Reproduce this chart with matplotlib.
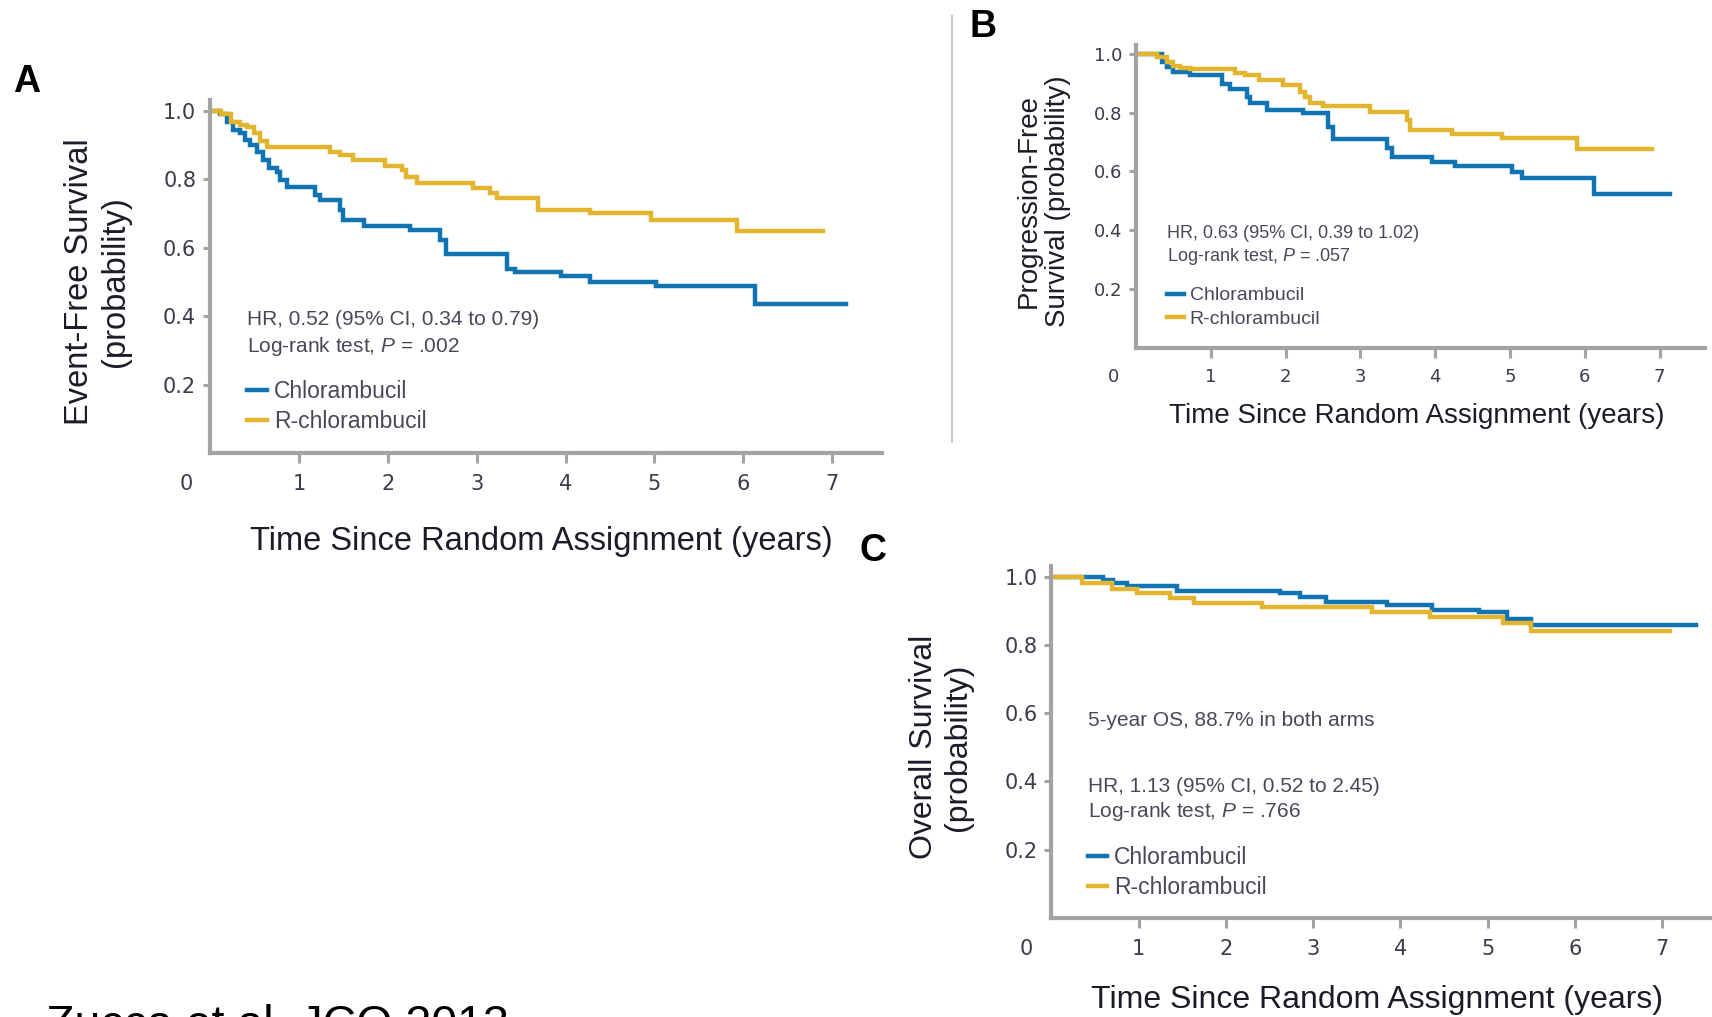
import matplotlib
matplotlib.use('Agg')
import matplotlib.pyplot as plt
from matplotlib.lines import Line2D

plt.rcParams['font.family'] = ['Liberation Sans', 'DejaVu Sans']
plt.rcParams['mathtext.fontset'] = 'custom'
plt.rcParams['mathtext.rm'] = 'Liberation Sans'
plt.rcParams['mathtext.it'] = 'Liberation Sans:italic'

BLUE = '#0f74b1'
YELLOW = '#e2b430'
SPINE = '#a3a3a3'
TICKTXT = '#3c3a4c'
NOTE = '#4d4658'
LABEL = '#1c1c28'

# --- data (years, survival probability), Kaplan-Meier steps ---
efs_chl_t = [0, 0.11, 0.19, 0.26, 0.34, 0.39, 0.45, 0.53, 0.60, 0.66, 0.75, 0.79, 0.86, 1.18,
             1.24, 1.46, 1.50, 1.73, 2.25, 2.59, 2.66, 3.34, 3.43, 3.95, 4.28, 5.02, 6.13, 7.15]
efs_chl_s = [1.0, 0.99, 0.968, 0.944, 0.934, 0.914, 0.90, 0.88, 0.856, 0.832, 0.822, 0.798, 0.778, 0.754,
             0.739, 0.71, 0.681, 0.664, 0.652, 0.623, 0.582, 0.537, 0.53, 0.518, 0.50, 0.487, 0.436, 0.436]
efs_rchl_t = [0, 0.12, 0.24, 0.34, 0.41, 0.49, 0.56, 0.64, 1.35, 1.46, 1.61, 1.97, 2.16, 2.21,
              2.33, 2.96, 3.15, 3.23, 3.69, 4.28, 4.96, 5.93, 6.90]
efs_rchl_s = [1.0, 0.99, 0.968, 0.958, 0.953, 0.934, 0.91, 0.895, 0.88, 0.871, 0.856, 0.837, 0.827, 0.807,
              0.788, 0.773, 0.759, 0.744, 0.711, 0.70, 0.68, 0.648, 0.648]

pfs_chl_t = [0, 0.34, 0.41, 0.50, 0.72, 1.15, 1.26, 1.48, 1.52, 1.75, 2.23, 2.57, 2.63, 3.35,
             3.42, 3.96, 4.27, 5.03, 5.16, 6.12, 7.14]
pfs_chl_s = [1.0, 0.973, 0.957, 0.938, 0.928, 0.899, 0.879, 0.854, 0.832, 0.809, 0.798, 0.75, 0.709, 0.68,
             0.65, 0.633, 0.618, 0.599, 0.577, 0.523, 0.523]
pfs_rchl_t = [0, 0.28, 0.41, 0.50, 0.59, 0.72, 1.32, 1.46, 1.64, 1.97, 2.19, 2.26, 2.33, 2.50,
              3.13, 3.62, 3.66, 4.23, 4.89, 5.89, 6.90]
pfs_rchl_s = [1.0, 0.988, 0.974, 0.959, 0.951, 0.948, 0.934, 0.928, 0.911, 0.894, 0.872, 0.854, 0.834, 0.823,
              0.801, 0.775, 0.741, 0.726, 0.713, 0.675, 0.675]

os_chl_t = [0, 0.59, 0.71, 0.87, 1.44, 2.62, 2.85, 3.15, 3.85, 4.36, 4.90, 5.22, 5.50, 7.39]
os_chl_s = [1.0, 0.989, 0.98, 0.972, 0.958, 0.951, 0.939, 0.926, 0.918, 0.902, 0.895, 0.875, 0.858, 0.858]
os_rchl_t = [0, 0.35, 0.69, 0.98, 1.36, 1.64, 2.41, 3.67, 4.34, 5.17, 5.50, 7.09]
os_rchl_s = [1.0, 0.98, 0.965, 0.951, 0.938, 0.924, 0.911, 0.895, 0.882, 0.863, 0.841, 0.841]

arm_names = ['Chlorambucil', 'R-chlorambucil']
x_ticks = [1, 2, 3, 4, 5, 6, 7]
y_ticks = [0.2, 0.4, 0.6, 0.8, 1.0]
x_title = 'Time Since Random Assignment (years)'

efs_notes = ['HR, 0.52 (95% CI, 0.34 to 0.79)', r'Log-rank test, $P$ = .002']
pfs_notes = ['HR, 0.63 (95% CI, 0.39 to 1.02)', r'Log-rank test, $P$ = .057']
os_notes = ['5-year OS, 88.7% in both arms', 'HR, 1.13 (95% CI, 0.52 to 2.45)',
            r'Log-rank test, $P$ = .766']


def panel(ax, curves, ylab, notes, note_y, leg_y, xmax, fs_tick, fs_lab, fs_note, fs_leg, ylab_x, xlab_y, zero_x):
    handles = []
    for (t, s), c in zip(curves, [BLUE, YELLOW]):
        h, = ax.step(t, s, where='post', color=c, lw=3.2, solid_joinstyle='miter')
        handles.append(h)
    ax.set_xlim(0, xmax)
    ax.set_ylim(0, 1.03)
    for side in ['top', 'right']:
        ax.spines[side].set_visible(False)
    for side in ['left', 'bottom']:
        ax.spines[side].set_color(SPINE)
        ax.spines[side].set_linewidth(3)
    ax.set_xticks(x_ticks)
    ax.set_yticks(y_ticks)
    ax.set_yticklabels(['%.1f' % v for v in y_ticks])
    ax.tick_params(axis='x', colors=SPINE, labelcolor=TICKTXT, width=2.2, length=7, pad=8,
                   labelsize=fs_tick)
    ax.tick_params(axis='y', colors=SPINE, labelcolor=TICKTXT, width=2.2, length=5, pad=5,
                   labelsize=fs_tick)
    for lab in ax.get_xticklabels() + ax.get_yticklabels():
        lab.set_family(['DejaVu Sans'])
    ax.annotate('0', xy=(zero_x, 0), xycoords=('data', 'axes fraction'), xytext=(0, -15),
                textcoords='offset points', ha='center', va='top', fontsize=fs_tick,
                color=TICKTXT, family=['DejaVu Sans'], annotation_clip=False)
    ax.text(0.493, xlab_y, x_title, transform=ax.transAxes, ha='center', va='top',
            fontsize=fs_lab, color=LABEL)
    ax.text(ylab_x, 0.5 / 1.03, ylab, transform=ax.transAxes, rotation=90, ha='center',
            va='center', multialignment='center', fontsize=fs_lab, color=LABEL)
    for txt, y in zip(notes, note_y):
        ax.text(0.42, y, txt, ha='left', va='center', fontsize=fs_note, color=NOTE)
    ax.legend(handles, arm_names, loc='center left', bbox_to_anchor=(0.42, leg_y),
              bbox_transform=ax.transData, frameon=False, borderpad=0, borderaxespad=0,
              handlelength=0.85, handletextpad=0.3, labelspacing=0.3, fontsize=fs_leg,
              labelcolor=NOTE)


fig = plt.figure(figsize=(17.12, 10.17), dpi=100)

ax_a = fig.add_axes([0.1227, 0.5544, 0.3925, 0.3469])
panel(ax_a, [(efs_chl_t, efs_chl_s), (efs_rchl_t, efs_rchl_s)],
      'Event-Free Survival\n(probability)', efs_notes, [0.39, 0.31], 0.135, 7.56,
      15, 23.5, 15, 16.5, -0.167, -0.207, -0.27)

ax_b = fig.add_axes([0.6636, 0.6583, 0.3324, 0.2973])
panel(ax_b, [(pfs_chl_t, pfs_chl_s), (pfs_rchl_t, pfs_rchl_s)],
      'Progression-Free\nSurvival (probability)', pfs_notes, [0.39, 0.31], 0.137, 7.61,
      13, 20, 13, 14, -0.163, -0.185, -0.30)

ax_c = fig.add_axes([0.6141, 0.0976, 0.3859, 0.3455])
panel(ax_c, [(os_chl_t, os_chl_s), (os_rchl_t, os_rchl_s)],
      'Overall Survival\n(probability)', os_notes, [0.578, 0.386, 0.31], 0.133, 7.57,
      15, 23, 15, 16.5, -0.167, -0.192, -0.29)

fig.text(0.0158, 0.919, 'A', fontsize=27, fontweight='bold', ha='center', va='center')
fig.text(0.574, 0.9735, 'B', fontsize=27, fontweight='bold', ha='center', va='center')
fig.text(0.510, 0.458, 'C', fontsize=27, fontweight='bold', ha='center', va='center')

fig.add_artist(Line2D([0.556, 0.556], [0.565, 0.984], transform=fig.transFigure,
                      color='#c8c8c8', lw=1.5))

# citation sits at the bottom edge and is partly cut off, as in the source image
fig.text(0.027, -0.0207, 'Zucca et al. JCO 2013', fontsize=33.5, va='baseline', color='black')

plt.savefig('out.png', dpi=100)
